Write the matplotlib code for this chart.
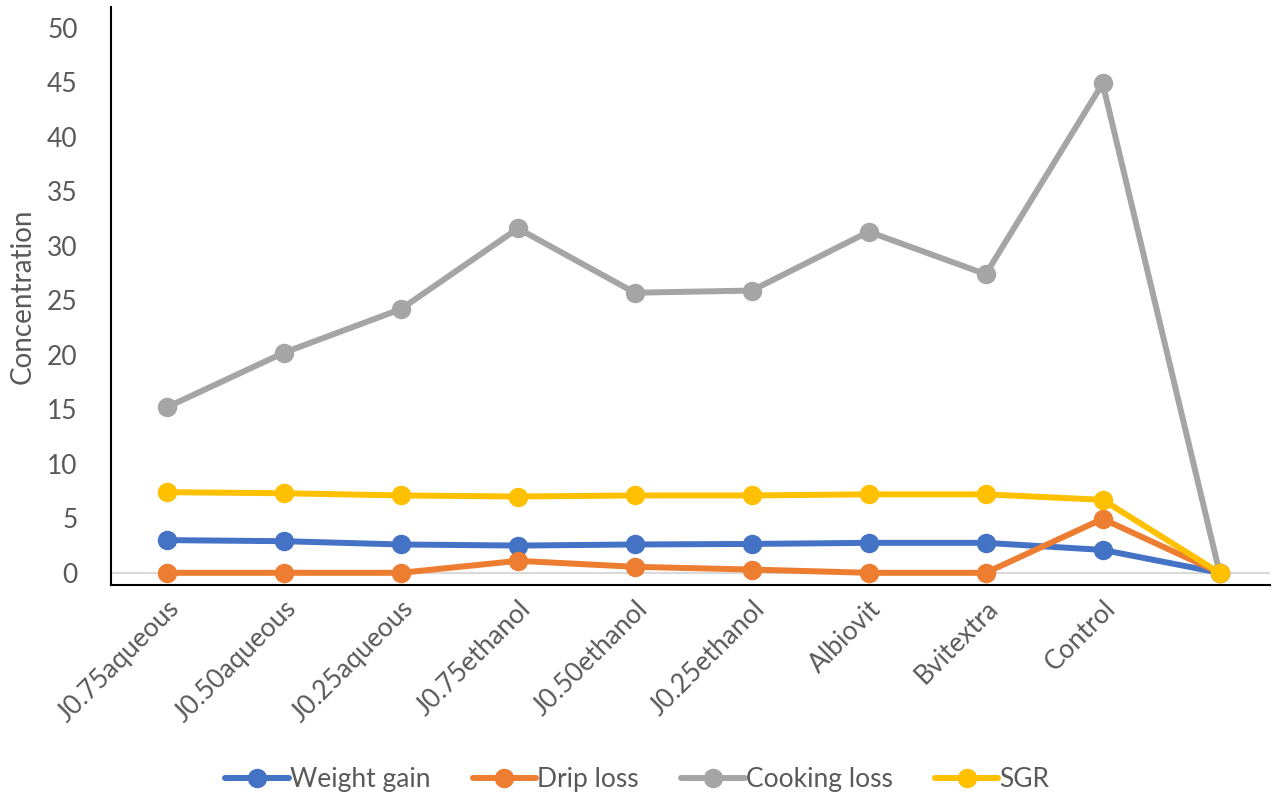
import matplotlib
matplotlib.use("Agg")
import matplotlib.pyplot as plt
import numpy as np

plt.rcParams['font.family'] = ['Lato', 'DejaVu Sans']

categories = ["J0.75aqueous", "J0.50aqueous", "J0.25aqueous", "J0.75ethanol",
              "J0.50ethanol", "J0.25ethanol", "Albiovit", "Bvitextra", "Control", ""]

weight_gain = [3.0, 2.9, 2.6, 2.5, 2.6, 2.65, 2.75, 2.75, 2.1, 0]
drip_loss = [0, 0, 0, 1.1, 0.55, 0.3, 0, 0, 4.95, 0]
cooking_loss = [15.2, 20.2, 24.2, 31.6, 25.7, 25.9, 31.3, 27.4, 44.9, 0]
sgr = [7.4, 7.3, 7.1, 7.0, 7.1, 7.1, 7.2, 7.2, 6.7, 0]

series = [("Weight gain", weight_gain, "#4472C4"),
          ("Drip loss", drip_loss, "#ED7D31"),
          ("Cooking loss", cooking_loss, "#A5A5A5"),
          ("SGR", sgr, "#FFC000")]

fig = plt.figure(figsize=(12.75, 8), dpi=100)
ax = fig.add_axes([0.087, 0.269, 0.909, 0.722])

x = np.arange(len(categories))
ax.axhline(0, color="#d9d9d9", lw=1.5, zorder=1)
for name, vals, col in series:
    ax.plot(x, vals, color=col, lw=4.3, marker="o", markersize=13,
            label=name, zorder=3, solid_capstyle="round")

ax.set_xlim(-0.48, 9.43)
ax.set_ylim(-1.1, 51.9)
ax.set_yticks(np.arange(0, 51, 5))
ax.set_xticks(x)
ax.set_xticklabels(categories, rotation=45, ha="right", rotation_mode="anchor",
                   fontsize=19, color="#595959")
ax.tick_params(axis="x", length=0, pad=8)
ax.tick_params(axis="y", length=0, labelsize=19, labelcolor="#595959", pad=24)

ax.spines["top"].set_visible(False)
ax.spines["right"].set_visible(False)
ax.spines["left"].set_color("black")
ax.spines["bottom"].set_color("black")
ax.spines["left"].set_linewidth(1.5)
ax.spines["bottom"].set_linewidth(1.5)

ax.set_ylabel("Concentration", fontsize=20, color="#595959", labelpad=8)

fig.legend(loc="lower center", bbox_to_anchor=(0.5, -0.02), ncol=4, frameon=False,
           fontsize=19, handlelength=2.4, columnspacing=1.6, handletextpad=0.05,
           labelcolor="#595959")

fig.savefig("out.png", dpi=100)
